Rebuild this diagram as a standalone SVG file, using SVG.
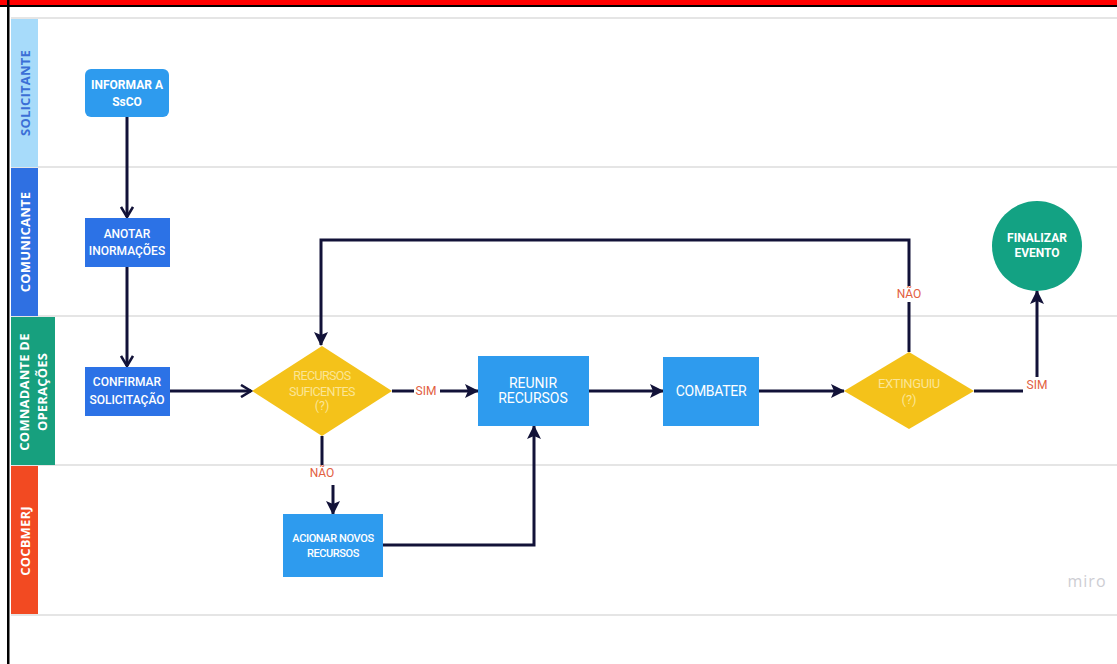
<svg xmlns="http://www.w3.org/2000/svg" width="1117" height="664" viewBox="0 0 1117 664">
<defs>
<style>
.lane{stroke:#dcdcdc;stroke-width:1.5}
.lt{font-family:"Open Sans","DejaVu Sans",sans-serif;font-weight:700;font-size:13px;text-anchor:middle;dominant-baseline:central;letter-spacing:0.2px}
.nt{font-family:Roboto,"Liberation Sans",sans-serif;fill:#ffffff;text-anchor:middle;dominant-baseline:central}
.dt{font-family:Roboto,"Liberation Sans",sans-serif;fill:#fbe595;text-anchor:middle;dominant-baseline:central}
.lb{font-family:Roboto,"Liberation Sans",sans-serif;fill:#e2603f;font-size:12px;text-anchor:middle;dominant-baseline:central}
.c{fill:none;stroke:#121238;stroke-width:3}
.fa{marker-end:url(#fill)}
.oa{marker-end:url(#open)}
</style>
<marker id="fill" viewBox="0 0 14 14" refX="13" refY="7" markerWidth="14" markerHeight="14" markerUnits="userSpaceOnUse" orient="auto">
<path d="M0,0 L14,7 L0,14 L3,7 Z" fill="#121238"/>
</marker>
<marker id="open" viewBox="0 0 14 14" refX="12" refY="7" markerWidth="14" markerHeight="14" markerUnits="userSpaceOnUse" orient="auto">
<path d="M2,1 L12,7 L2,13" fill="none" stroke="#121238" stroke-width="2.6"/>
</marker>
</defs>
<rect x="0" y="0" width="1117" height="664" fill="#ffffff"/>
<rect x="0" y="0" width="1117" height="5" fill="#ff0000"/>
<rect x="0" y="5" width="1117" height="2" fill="#000000"/>
<rect x="7" y="0" width="2.5" height="664" fill="#000000"/>

<g id="lanes">
<line class="lane" x1="11" y1="18" x2="1117" y2="18"/>
<line class="lane" x1="11" y1="167" x2="1117" y2="167"/>
<line class="lane" x1="11" y1="316" x2="1117" y2="316"/>
<line class="lane" x1="11" y1="465" x2="1117" y2="465"/>
<line class="lane" x1="11" y1="615" x2="1117" y2="615"/>
</g>
<g id="lane-solicitante">
<rect x="11" y="19" width="27" height="148" fill="#a7dbfa"/>
<text class="lt" fill="#3b6fd6" transform="translate(25,93) rotate(-90)">SOLICITANTE</text>
</g>
<g id="lane-comunicante">
<rect x="11" y="168" width="27" height="148" fill="#2f70e2"/>
<text class="lt" fill="#ffffff" transform="translate(25,242) rotate(-90)">COMUNICANTE</text>
</g>
<g id="lane-comandante">
<rect x="11" y="317" width="44" height="148" fill="#17a07e"/>
<text class="lt" fill="#ffffff" transform="translate(24,392) rotate(-90)">COMNADANTE DE</text>
<text class="lt" fill="#ffffff" transform="translate(42,392) rotate(-90)">OPERAÇÕES</text>
</g>
<g id="lane-cocbmerj">
<rect x="11" y="466" width="27" height="148" fill="#f24a22"/>
<text class="lt" fill="#ffffff" transform="translate(25,541) rotate(-90)">COCBMERJ</text>
</g>

<g id="connectors">
<line class="c oa" x1="127" y1="117" x2="127" y2="217"/>
<line class="c oa" x1="127" y1="267" x2="127" y2="366"/>
<line class="c oa" x1="170" y1="391" x2="251" y2="391"/>
<polyline class="c fa" points="909,352 909,240 321,240 321,345"/>
<line class="c" x1="392" y1="391" x2="414" y2="391"/>
<line class="c fa" x1="440" y1="391" x2="478" y2="391"/>
<line class="c" x1="322" y1="436" x2="322" y2="465"/>
<line class="c fa" x1="333" y1="485" x2="333" y2="514"/>
<polyline class="c fa" points="383,545 534,545 534,426"/>
<line class="c fa" x1="589" y1="391" x2="663" y2="391"/>
<line class="c fa" x1="759" y1="391" x2="844" y2="391"/>
<line class="c" x1="974" y1="391" x2="1023" y2="391"/>
<line class="c fa" x1="1037" y1="377" x2="1037" y2="291"/>
<rect x="897" y="286" width="24" height="16" fill="#ffffff"/>
<text class="lb" x="426" y="391">SIM</text>
<text class="lb" x="322" y="473">NÃO</text>
<text class="lb" x="909" y="294">NÃO</text>
<text class="lb" x="1037" y="385">SIM</text>
</g>

<g id="informar">
<rect x="85" y="69" width="84" height="48" rx="6" fill="#2e9bee"/>
<text class="nt" font-size="12" font-weight="700" x="127" y="85">INFORMAR A</text>
<text class="nt" font-size="12" font-weight="700" x="127" y="102">SsCO</text>
</g>
<g id="anotar">
<rect x="85" y="218" width="85" height="49" fill="#2c72e6"/>
<text class="nt" font-size="12" font-weight="500" x="127" y="234">ANOTAR</text>
<text class="nt" font-size="12" font-weight="500" x="127" y="251">INORMAÇÕES</text>
</g>
<g id="confirmar">
<rect x="85" y="367" width="85" height="49" fill="#2c72e6"/>
<text class="nt" font-size="12" font-weight="500" x="127" y="382">CONFIRMAR</text>
<text class="nt" font-size="12" font-weight="500" x="127" y="400">SOLICITAÇÃO</text>
</g>
<g id="recursos-suficentes">
<polygon points="322,346 392,391 322,436 252,391" fill="#f4c21a"/>
<text class="dt" font-size="12.5" x="322" y="375" letter-spacing="-0.6">RECURSOS</text>
<text class="dt" font-size="12.5" x="322" y="391" letter-spacing="-0.6">SUFICENTES</text>
<text class="dt" font-size="12.5" x="322" y="405">(?)</text>
</g>
<g id="acionar">
<rect x="283" y="514" width="100" height="63" fill="#2e9bee"/>
<text class="nt" font-size="11" font-weight="500" x="333" y="538" letter-spacing="-0.4">ACIONAR NOVOS</text>
<text class="nt" font-size="11" font-weight="500" x="333" y="553" letter-spacing="-0.4">RECURSOS</text>
</g>
<g id="reunir">
<rect x="478" y="356" width="111" height="70" fill="#2e9bee"/>
<text class="nt" font-size="14" x="533" y="383">REUNIR</text>
<text class="nt" font-size="14" x="533" y="398">RECURSOS</text>
</g>
<g id="combater">
<rect x="663" y="357" width="96" height="69" fill="#2e9bee"/>
<text class="nt" font-size="14" x="711" y="391" letter-spacing="-0.3">COMBATER</text>
</g>
<g id="extinguiu">
<polygon points="909,352 974,391 909,429 844,391" fill="#f4c21a"/>
<text class="dt" font-size="13" x="909" y="383" letter-spacing="-0.4">EXTINGUIU</text>
<text class="dt" font-size="13" x="909" y="399">(?)</text>
</g>
<g id="finalizar">
<circle cx="1037" cy="246" r="45" fill="#13a283"/>
<text class="nt" font-size="12" font-weight="700" x="1037" y="238">FINALIZAR</text>
<text class="nt" font-size="12" font-weight="700" x="1037" y="253">EVENTO</text>
</g>
<text x="1087" y="587" font-family="'Open Sans',sans-serif" font-weight="400" font-size="16" fill="#cdcdd3" text-anchor="middle" letter-spacing="1">miro</text>
</svg>
